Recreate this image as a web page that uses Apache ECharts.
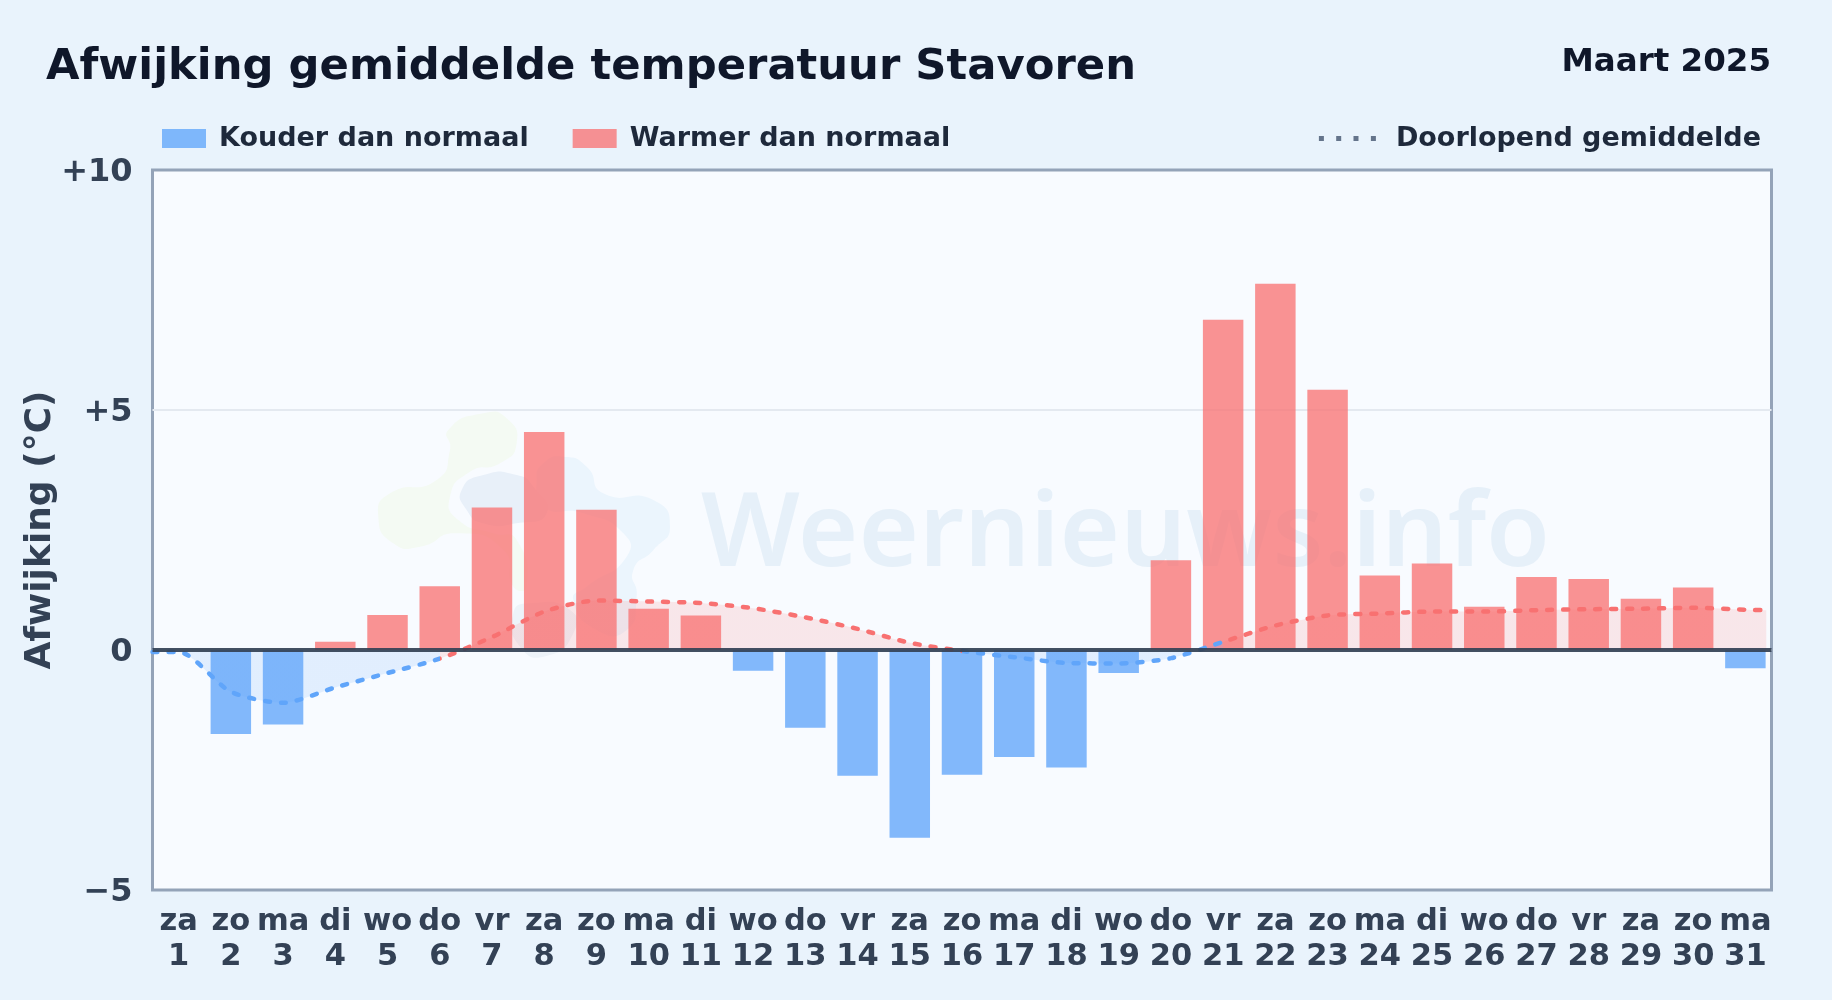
<!DOCTYPE html>
<html><head><meta charset="utf-8">
<style>html,body{margin:0;padding:0;background:#e9f3fc}#c{width:1832px;height:1000px}</style>
<script src="https://cdn.jsdelivr.net/npm/echarts@6/dist/echarts.min.js"></script>
</head><body><div id="c"></div>
<script>
const weekdays = ['za','zo','ma','di','wo','do','vr','za','zo','ma','di','wo','do','vr','za','zo','ma','di','wo','do','vr','za','zo','ma','di','wo','do','vr','za','zo','ma'];
const days = ['1','2','3','4','5','6','7','8','9','10','11','12','13','14','15','16','17','18','19','20','21','22','23','24','25','26','27','28','29','30','31'];
const deviations = [0,-1.75,-1.55,0.17,0.73,1.33,2.97,4.54,2.92,0.86,0.72,-0.43,-1.62,-2.62,-3.91,-2.6,-2.23,-2.45,-0.48,1.87,6.88,7.63,5.42,1.55,1.8,0.9,1.52,1.48,1.07,1.3,-0.38];
const runningMean = [-0.04,-0.87,-1.1,-0.78,-0.48,-0.18,0.27,0.8,1.03,1.01,0.98,0.87,0.68,0.44,0.15,-0.02,-0.15,-0.27,-0.28,-0.17,0.17,0.51,0.72,0.76,0.8,0.8,0.83,0.85,0.86,0.88,0.84];
const runningEdges = [[0.5,-0.04],[31.4,0.83]];
const yTicks = {'10':'+10','5':'+5','0':'0','-5':'\u22125'};
const colorSwitchDays = [6,16,21];

const COLD='#60a5fa', WARM='#f87171';
const meanPoints=[runningEdges[0],...runningMean.map((v,i)=>[i+1,v]),runningEdges[1]];
const catNames=weekdays.map((w,i)=>w+'\n'+days[i]);
const font='"DejaVu Sans"';

// watermark logo outlines (decoration only), in crop coordinates
const toPx=p=>p.map(([x,y])=>[370+x/3,400+y/3]);
const blob=(pts,fill)=>({type:'polygon',silent:true,z:1,shape:{points:toPx(pts),smooth:0.6},style:{fill}});
const logo=[
 blob([[340,40],[410,55],[440,130],[390,190],[300,215],[240,290],[265,360],[370,400],[440,420],[470,560],[430,560],[400,450],[260,400],[150,440],[70,430],[25,350],[60,280],[200,240],[240,150],[235,90]],'#f4faf3'),
 blob([[580,170],[650,200],[700,280],[850,300],[900,380],[850,450],[790,510],[800,590],[770,690],[680,690],[610,600],[650,560],[770,470],[760,400],[640,340],[520,320],[500,240],[520,190]],'#ebf5fd'),
 blob([[275,270],[340,225],[440,225],[490,260],[530,340],[440,370],[340,370],[290,330]],'#e8f0f9'),
 blob([[430,640],[480,610],[600,630],[610,700],[530,768],[450,740]],'#edf3f9')
];

const chart=echarts.init(document.getElementById('c'),null,{renderer:'canvas'});
chart.setOption({
 animation:false,
 backgroundColor:'#e9f3fc',
 textStyle:{fontFamily:font},
 title:[
  {text:'Afwijking gemiddelde temperatuur Stavoren',left:41,top:41,textStyle:{fontFamily:font,fontSize:43.3,fontWeight:'bold',color:'#0f172a'}},
  {text:'Maart 2025',right:56,top:41,textStyle:{fontFamily:font,fontSize:32.5,fontWeight:'bold',color:'#0f172a'}}
 ],
 legend:[
  {left:157,top:120,itemWidth:44,itemHeight:19,itemGap:44,selectedMode:false,textStyle:{fontFamily:font,fontSize:27,fontWeight:'bold',color:'#1e293b',padding:[0,0,0,8]},
   data:[{name:'Kouder dan normaal',icon:'rect'},{name:'Warmer dan normaal',icon:'rect'}]},
  {right:66,top:120,itemWidth:57,itemHeight:5,selectedMode:false,textStyle:{fontFamily:font,fontSize:27,fontWeight:'bold',color:'#1e293b',padding:[0,0,0,15]},
   data:[{name:'Doorlopend gemiddelde',icon:'path://M0 0h5v5H0zM17.3 0h5v5h-5zM34.6 0h5v5h-5zM52 0h5v5h-5z',itemStyle:{color:'#64748b'}}]}
 ],
 grid:{left:152.5,right:60.5,top:170,bottom:110,show:true,backgroundColor:'#f8fbff',borderColor:'#94a3b8',borderWidth:3},
 xAxis:[
  {type:'category',data:catNames,axisLine:{show:false},axisTick:{show:false},splitLine:{show:false},
   axisLabel:{interval:0,margin:14.5,fontFamily:font,fontSize:30.5,fontWeight:'bold',color:'#334155',lineHeight:35}},
  {type:'value',min:0.5,max:31.5,show:false,splitLine:{show:false}}
 ],
 yAxis:{type:'value',min:-5,max:10,interval:5,
  axisLine:{show:false},axisTick:{show:false},splitLine:{show:true,showMinLine:false,showMaxLine:false,lineStyle:{color:'#e4e9f0',width:2}},
  axisLabel:{margin:20,fontFamily:font,fontSize:32,fontWeight:'bold',color:'#334155',verticalAlign:'top',lineHeight:6,formatter:v=>yTicks[String(v)]},
  name:'Afwijking (\u00b0C)',nameLocation:'middle',nameRotate:90,nameGap:94,nameMoveOverlap:false,nameTextStyle:{fontFamily:font,fontSize:36,fontWeight:'bold',color:'#334155'}},
 visualMap:{show:false,type:'piecewise',seriesIndex:2,dimension:0,pieces:[
  {lt:colorSwitchDays[0],color:COLD},
  {gte:colorSwitchDays[0],lt:colorSwitchDays[1],color:WARM},
  {gte:colorSwitchDays[1],lt:colorSwitchDays[2],color:COLD},
  {gte:colorSwitchDays[2],color:WARM}]},
 series:[
  {name:'Kouder dan normaal',type:'bar',barWidth:'77.5%',barGap:'-100%',itemStyle:{color:'rgba(96,165,250,0.78)'},data:deviations.map(v=>v<0?v:null)},
  {name:'Warmer dan normaal',type:'bar',barWidth:'77.5%',barGap:'-100%',itemStyle:{color:'rgba(248,113,113,0.76)'},data:deviations.map(v=>v>0?v:null),
   markLine:{silent:true,symbol:'none',label:{show:false},lineStyle:{color:'#334155',width:4,type:'solid',opacity:.92},data:[{yAxis:0}]},z:3},
  {name:'Doorlopend gemiddelde',type:'line',xAxisIndex:1,smooth:0.25,showSymbol:false,z:4,
   lineStyle:{width:4.5,type:[5,11],cap:'round'},areaStyle:{opacity:0.15,origin:0},data:meanPoints}
 ],
 graphic:[...logo,{type:'text',silent:true,z:1,x:701,y:588,style:{text:'Weernieuws.info',font:'600 103.7px "Noto Sans"',fill:'#e6f0f9',textVerticalAlign:'bottom'}}]
});
</script></body></html>
